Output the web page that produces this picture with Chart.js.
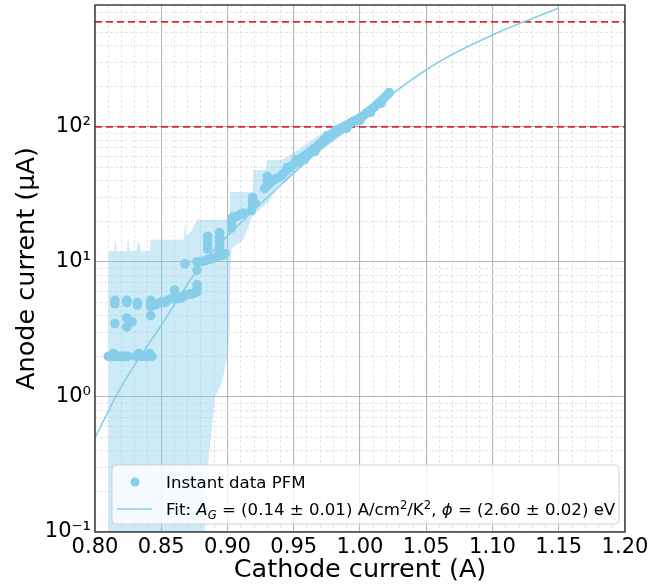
<!DOCTYPE html>
<html>
<head>
<meta charset="utf-8">
<script src="https://cdn.jsdelivr.net/npm/chart.js@4.4.1/dist/chart.umd.min.js"></script>
<style>
  html, body { margin: 0; padding: 0; background: #fff; }
  #box { width: 662px; height: 587px; }
</style>
</head>
<body>
<div id="box"><canvas id="myChart" width="662" height="587"></canvas></div>
<script>
// measured points (cathode current A, anode current uA)
const pointsX = [
  0.810, 0.812, 0.814, 0.815, 0.817, 0.819, 0.821, 0.823, 0.825,
  0.831, 0.833, 0.835, 0.837, 0.839, 0.841, 0.843,
  0.815, 0.815, 0.824, 0.824, 0.832, 0.832, 0.842, 0.842, 0.842,
  0.815, 0.824, 0.824, 0.828, 0.842,
  0.845, 0.847, 0.849, 0.851, 0.853, 0.855, 0.857, 0.859, 0.860, 0.861, 0.863, 0.865, 0.867, 0.869, 0.871, 0.873, 0.875, 0.877, 0.877, 0.877,
  0.868, 0.877, 0.877, 0.879, 0.881, 0.883, 0.885, 0.885, 0.885, 0.885, 0.885, 0.887, 0.889, 0.891, 0.893, 0.894, 0.894, 0.894, 0.894, 0.894, 0.896, 0.898,
  0.903, 0.903, 0.903, 0.904, 0.906, 0.908, 0.910, 0.912,
  0.918, 0.919, 0.919, 0.919, 0.921,
  0.928, 0.930, 0.930, 0.930, 0.932, 0.934, 0.936, 0.938, 0.940, 0.942, 0.944, 0.945,
  0.947, 0.949, 0.951, 0.953, 0.955, 0.957, 0.959, 0.961, 0.963, 0.965, 0.967, 0.969, 0.971, 0.973, 0.975, 0.977, 0.979, 0.981, 0.983, 0.985,
  0.987, 0.989, 0.991, 0.993, 0.995, 0.997, 0.999, 1.001, 1.003, 1.005, 1.007, 1.009, 1.011, 1.013, 1.015, 1.017, 1.019, 1.021, 1.022,
  0.952, 0.958, 0.966, 0.975, 0.982, 0.990, 1.000, 1.008, 1.016
];
const pointsY = [
  2.0, 2.0, 2.1, 2.0, 2.0, 2.0, 2.0, 2.0, 2.0,
  2.0, 2.1, 2.0, 2.0, 2.0, 2.1, 2.0,
  5.2, 4.9, 5.2, 5.0, 5.0, 4.8, 5.2, 4.9, 4.7,
  3.5, 3.85, 3.3, 3.6, 4.0,
  4.8, 4.9, 5.0, 5.1, 5.0, 5.2, 5.3, 5.4, 6.2, 5.3, 5.5, 5.4, 5.6, 5.7, 5.8, 5.8, 5.9, 6.0, 6.4, 6.8,
  9.7, 8.7, 10.0, 10.0, 10.1, 10.2, 10.4, 12.5, 13.5, 14.5, 15.5, 10.5, 10.6, 10.8, 11.0, 11.8, 12.8, 14.0, 15.2, 16.5, 11.2, 11.5,
  17.8, 19.0, 20.5, 21.5, 21.5, 22.0, 22.5, 23.0,
  24, 26, 28, 30, 27,
  35, 37, 40, 43, 38, 40, 41, 42, 43, 45, 47, 50,
  50, 52, 54, 55, 58, 60, 62, 64, 66, 69, 71, 74, 77, 80, 82, 85, 88, 90, 93, 96,
  99, 101, 104, 107, 110, 112, 115, 118, 122, 127, 131, 136, 141, 147, 153, 160, 167, 174, 180,
  57, 57, 66, 86, 95, 98, 112, 128, 150
];

// uncertainty band
const bandX = [0.810, 0.8145, 0.8155, 0.8165, 0.824, 0.825, 0.826, 0.831, 0.833, 0.8345, 0.8415, 0.842,
  0.867, 0.868, 0.869, 0.873, 0.877, 0.8815, 0.8825, 0.885, 0.8906, 0.8956, 0.900, 0.9015, 0.902, 0.903,
  0.912, 0.919, 0.9195, 0.929, 0.930, 0.940, 0.945, 0.955, 0.970, 0.985, 1.000, 1.015, 1.022];
const bandHigh = [12, 12, 15.4, 12, 12, 15.2, 12, 12, 14.5, 12, 12, 14.6,
  14.6, 20, 15.5, 17, 20.5, 20.5, 20.5, 20.5, 20.5, 20.5, 20.5, 20.5, 33, 33,
  33, 33, 48, 48, 57, 57, 60, 70, 88, 108, 128, 165, 188];
const bandLow = [0.01, 0.01, 0.01, 0.01, 0.01, 0.01, 0.01, 0.01, 0.01, 0.01, 0.01, 0.01,
  0.01, 0.01, 0.01, 0.01, 0.01, 0.01, 0.09, 0.3, 1.0, 1.26, 2.0, 3.1, 8, 12.5,
  14.6, 22, 22, 27, 27, 38, 40, 50, 66, 85, 105, 145, 170];

// fitted curve
const fitX = [0.80, 0.82, 0.85, 0.88, 0.91, 0.94, 0.97, 1.00, 1.03, 1.06, 1.10, 1.15];
const fitY = [0.50, 1.2, 3.4, 9.5, 19.5, 37, 68, 113, 193, 305, 480, 760];

// limit lines
const limitLevels = [100, 600];

const xMajorTicks = [0.80, 0.85, 0.90, 0.95, 1.00, 1.05, 1.10, 1.15, 1.20];
const yMajorTicks = [0.1, 1, 10, 100];
const yMajorLabels = ['10\u207B\u00B9', '10\u2070', '10\u00B9', '10\u00B2'];

const SKY = '#87ceeb';
const FONT = 'DejaVu Sans';

const xTicks = [];
for (let i = 0; i <= 40; i++) xTicks.push(+(0.80 + i * 0.01).toFixed(2));
const yTicks = [];
[0.1, 1, 10, 100].forEach(d => { for (let k = 1; k <= 9; k++) if (k * d <= 800) yTicks.push(+(k * d).toPrecision(3)); });

const isXMajor = v => xMajorTicks.some(m => Math.abs(m - v) < 1e-6);
const isYMajor = v => yMajorTicks.some(m => Math.abs(v / m - 1) < 1e-6);

const xy = (xs, ys) => xs.map((x, i) => ({x: x, y: ys[i]}));

const datasets = [
  {
    data: xy(pointsX, pointsY), showLine: false, pointRadius: 4.8, pointBackgroundColor: SKY,
    pointBorderWidth: 0, order: 0
  },
  {
    data: xy(fitX, fitY), borderColor: SKY, borderWidth: 1.6, pointRadius: 0,
    cubicInterpolationMode: 'monotone', order: 1
  }
];
limitLevels.forEach(l => datasets.push({
  data: [{x: 0.8, y: l}, {x: 1.2, y: l}], borderColor: '#e3262b', borderWidth: 1.8,
  borderDash: [7, 4], pointRadius: 0, order: 2
}));
datasets.push({
  data: xy(bandX, bandHigh), borderWidth: 0, pointRadius: 0, fill: '+1',
  backgroundColor: 'rgba(135,206,235,0.42)', order: 3
});
datasets.push({
  data: xy(bandX, bandLow), borderWidth: 0, pointRadius: 0, fill: false, order: 4
});

// frame + legend
const framePlugin = {
  id: 'frame',
  afterDraw(chart) {
    const {ctx, chartArea: {left, right, top, bottom}} = chart;
    ctx.save();
    ctx.strokeStyle = '#333';
    ctx.lineWidth = 1.4;
    ctx.strokeRect(left, top, right - left, bottom - top);

    // legend box
    const bx = 112, by = 465, bw = 507, bh = 59, r = 4;
    ctx.beginPath();
    ctx.moveTo(bx + r, by);
    ctx.arcTo(bx + bw, by, bx + bw, by + bh, r);
    ctx.arcTo(bx + bw, by + bh, bx, by + bh, r);
    ctx.arcTo(bx, by + bh, bx, by, r);
    ctx.arcTo(bx, by, bx + bw, by, r);
    ctx.closePath();
    ctx.fillStyle = 'rgba(255,255,255,0.8)';
    ctx.fill();
    ctx.strokeStyle = '#d0d0d0';
    ctx.lineWidth = 1;
    ctx.stroke();

    ctx.fillStyle = SKY;
    ctx.beginPath();
    ctx.arc(135, 482, 4.5, 0, Math.PI * 2);
    ctx.fill();
    ctx.strokeStyle = SKY;
    ctx.lineWidth = 1.6;
    ctx.beginPath();
    ctx.moveTo(117, 509);
    ctx.lineTo(152, 509);
    ctx.stroke();

    ctx.fillStyle = '#000';
    ctx.textBaseline = 'alphabetic';
    ctx.textAlign = 'left';
    ctx.font = '16.6px "' + FONT + '"';
    ctx.fillText('Instant data PFM', 166, 488);

    const parts = [
      ['Fit: ', 'n', 0], ['A', 'i', 0], ['G', 'is', 3.5], [' = (0.14 \u00B1 0.01) A/cm', 'n', 0],
      ['2', 's', -6.5], ['/K', 'n', 0], ['2', 's', -6.5], [', ', 'n', 0], ['\u03D5', 'i', 0],
      [' = (2.60 \u00B1 0.02) eV', 'n', 0]
    ];
    let x = 166;
    const base = 515;
    parts.forEach(([t, style, dy]) => {
      if (style === 'n') ctx.font = '16.6px "' + FONT + '"';
      else if (style === 'i') ctx.font = 'italic 16.6px "' + FONT + '"';
      else if (style === 'is') ctx.font = 'italic 11.6px "' + FONT + '"';
      else ctx.font = '11.6px "' + FONT + '"';
      ctx.fillText(t, x, base + dy);
      x += ctx.measureText(t).width;
    });
    ctx.restore();
  }
};

new Chart(document.getElementById('myChart'), {
  type: 'line',
  data: {datasets: datasets},
  options: {
    responsive: false,
    animation: false,
    events: [],
    layout: {padding: {top: 5, right: 37, left: 0, bottom: 0}},
    plugins: {legend: {display: false}, tooltip: {enabled: false}},
    scales: {
      x: {
        type: 'linear', min: 0.8, max: 1.2,
        afterBuildTicks: s => { s.ticks = xTicks.map(v => ({value: v})); },
        afterFit: s => { s.height = 55; s.paddingLeft = 0; s.paddingRight = 0; },
        ticks: {
          autoSkip: false, maxRotation: 0, padding: 3, color: '#000',
          font: {family: FONT, size: 21},
          callback: v => isXMajor(v) ? v.toFixed(2) : ''
        },
        grid: {
          drawTicks: false,
          color: c => isXMajor(c.tick.value) ? '#b5b5b5' : '#dedede',
          lineWidth: c => isXMajor(c.tick.value) ? 1.1 : 0.8
        },
        border: {display: false, dash: c => (c.tick && !isXMajor(c.tick.value)) ? [3, 2] : []},
        title: {display: true, text: 'Cathode current (A)', color: '#000',
          font: {family: FONT, size: 25.5}, padding: {top: 0, bottom: 1}}
      },
      y: {
        type: 'logarithmic', min: 0.1, max: 800,
        afterBuildTicks: s => { s.ticks = yTicks.map(v => ({value: v})); },
        afterFit: s => { s.width = 95; s.paddingTop = 0; s.paddingBottom = 0; },
        ticks: {
          autoSkip: false, padding: 4, color: '#000',
          font: {family: FONT, size: 21},
          callback: v => { const i = yMajorTicks.findIndex(m => Math.abs(v / m - 1) < 1e-6); return i >= 0 ? yMajorLabels[i] : ''; }
        },
        grid: {
          drawTicks: false,
          color: c => isYMajor(c.tick.value) ? '#b5b5b5' : '#dedede',
          lineWidth: c => isYMajor(c.tick.value) ? 1.1 : 0.8
        },
        border: {display: false, dash: c => (c.tick && !isYMajor(c.tick.value)) ? [3, 2] : []},
        title: {display: true, text: 'Anode current (\u03BCA)', color: '#000',
          font: {family: FONT, size: 25.5}, padding: {top: 12, bottom: 0}}
      }
    }
  },
  plugins: [framePlugin]
});
</script>
</body>
</html>
